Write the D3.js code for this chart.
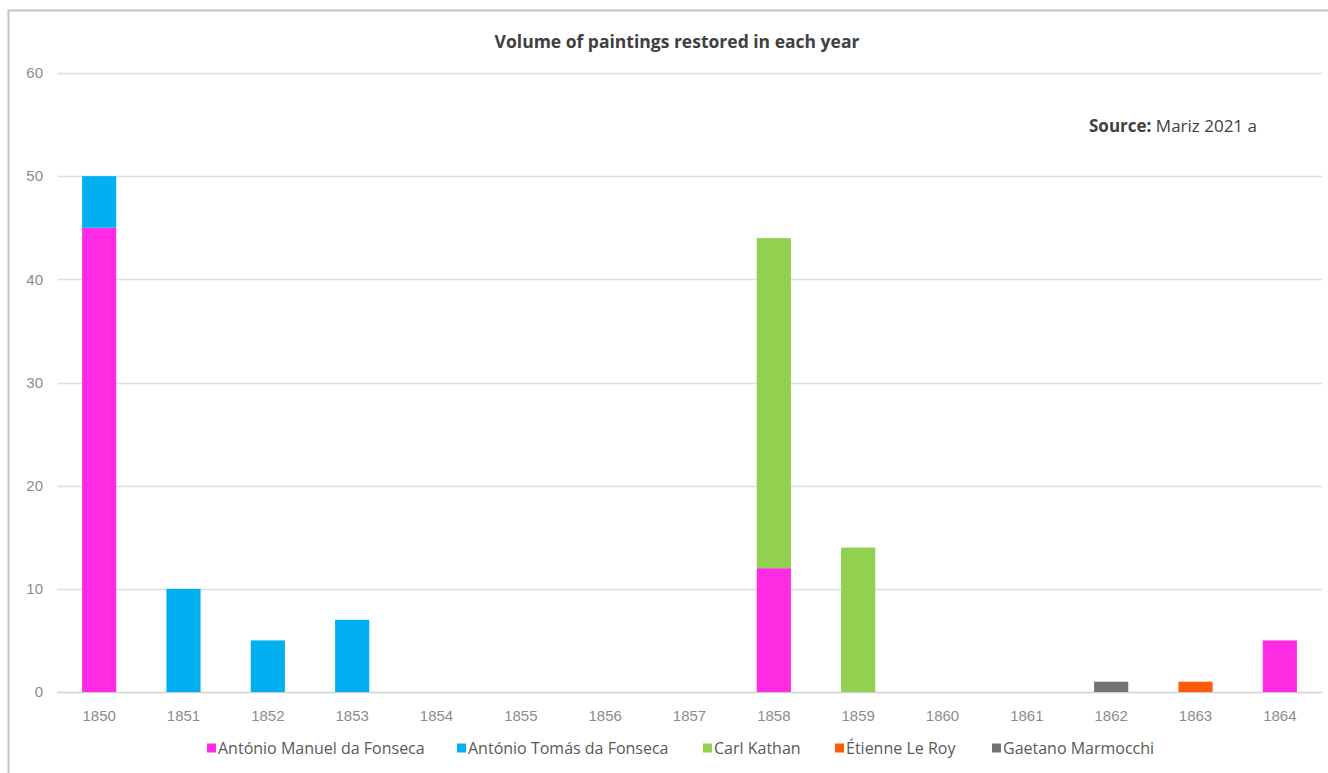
<!DOCTYPE html>
<html>
<head>
<meta charset="utf-8">
<script src="https://cdn.jsdelivr.net/npm/d3@7"></script>
<style>
  html, body { margin: 0; padding: 0; background: #fff; overflow: hidden; }
  svg { display: block; font-family: "Open Sans", Lato, "Liberation Sans", sans-serif; }
</style>
</head>
<body>
<svg id="chart" width="1328" height="773"></svg>
<script>
// Years on the horizontal axis
const years = ["1850","1851","1852","1853","1854","1855","1856","1857","1858","1859","1860","1861","1862","1863","1864"];

// Restorers (stack order, bottom to top)
const restorers = ["António Manuel da Fonseca","António Tomás da Fonseca","Carl Kathan","Étienne Le Roy","Gaetano Marmocchi"];

// Paintings restored per year, one array per restorer
const manuelFonseca = [45, 0, 0, 0, 0, 0, 0, 0, 12, 0, 0, 0, 0, 0, 5];
const tomasFonseca  = [5, 10, 5, 7, 0, 0, 0, 0, 0, 0, 0, 0, 0, 0, 0];
const carlKathan    = [0, 0, 0, 0, 0, 0, 0, 0, 32, 14, 0, 0, 0, 0, 0];
const etienneLeRoy  = [0, 0, 0, 0, 0, 0, 0, 0, 0, 0, 0, 0, 0, 1, 0];
const gaetanoMarmocchi = [0, 0, 0, 0, 0, 0, 0, 0, 0, 0, 0, 0, 1, 0, 0];

const yTicks = [0, 10, 20, 30, 40, 50, 60];

const colors = ["#FF2BE3", "#00B0F0", "#92D050", "#FF5A0A", "#767171"];

const seriesValues = [manuelFonseca, tomasFonseca, carlKathan, etienneLeRoy, gaetanoMarmocchi];
const rows = years.map((yr, i) => {
  const r = { year: yr };
  restorers.forEach((name, k) => { r[name] = seriesValues[k][i]; });
  return r;
});

const svg = d3.select("#chart");

// Chart frame (only top and left edges fall inside the view)
svg.append("rect")
  .attr("x", 8.5).attr("y", 10.5)
  .attr("width", 1340).attr("height", 800)
  .attr("fill", "none").attr("stroke", "#c4c4c4").attr("stroke-width", 2);

const plot = { left: 57, right: 1322, top: 73, bottom: 692 };

const x = d3.scaleBand().domain(years).range([plot.left, plot.right]).paddingInner(0.595).paddingOuter(0.2975);
const y = d3.scaleLinear().domain([0, 60]).range([plot.bottom, plot.top]);

// Horizontal gridlines
svg.append("g").selectAll("line").data(yTicks).join("line")
  .attr("x1", plot.left).attr("x2", plot.right)
  .attr("y1", d => Math.round(y(d)) + 0.5).attr("y2", d => Math.round(y(d)) + 0.5)
  .attr("stroke", d => d === 0 ? "#d0d0d0" : "#dedede").attr("stroke-width", 1.6);

// Y axis labels
const yAxis = d3.axisLeft(y).tickValues(yTicks).tickSize(0).tickPadding(0);
const gy = svg.append("g").attr("transform", `translate(${plot.left - 14},0)`).call(yAxis);
gy.select(".domain").remove();
gy.selectAll("text").attr("fill", "#8c8c8c").style("font-size", "15px").attr("dy", "0.32em");

// Stacked bars
const stacked = d3.stack().keys(restorers)(rows);
svg.append("g").selectAll("g").data(stacked).join("g")
  .attr("fill", (d, i) => colors[i])
  .selectAll("rect").data(d => d.filter(p => p[1] > p[0])).join("rect")
  .attr("x", d => x(d.data.year))
  .attr("width", x.bandwidth())
  .attr("y", d => y(d[1]))
  .attr("height", d => y(d[0]) - y(d[1]));

// X axis labels
const xAxis = d3.axisBottom(x).tickSize(0).tickPadding(0);
const gx = svg.append("g").attr("transform", `translate(0,${plot.bottom + 24})`).call(xAxis);
gx.select(".domain").remove();
gx.selectAll("text").attr("fill", "#8c8c8c").style("font-size", "15px").attr("dy", "0.32em");

// Title
svg.append("text")
  .attr("x", 677).attr("y", 42).attr("dy", "0.35em")
  .attr("text-anchor", "middle")
  .attr("fill", "#404040").style("font-size", "17.5px").style("font-weight", "bold")
  .text("Volume of paintings restored in each year");

// Source note
const src = svg.append("text")
  .attr("x", 1089).attr("y", 126).attr("dy", "0.35em")
  .attr("fill", "#404040").style("font-size", "17px");
src.append("tspan").style("font-weight", "bold").text("Source:");
src.append("tspan").text(" Mariz 2021 a");

// Legend
const legendX = [207, 457, 703, 835, 992];
const legend = svg.append("g").selectAll("g").data(restorers).join("g")
  .attr("transform", (d, i) => `translate(${legendX[i]},748)`);
legend.append("rect")
  .attr("x", 0).attr("y", -4.5).attr("width", 9).attr("height", 9)
  .attr("fill", (d, i) => colors[i]);
legend.append("text")
  .attr("x", 11).attr("y", 0).attr("dy", "0.35em")
  .attr("fill", "#595959").style("font-size", "16px")
  .text(d => d);
</script>
</body>
</html>
